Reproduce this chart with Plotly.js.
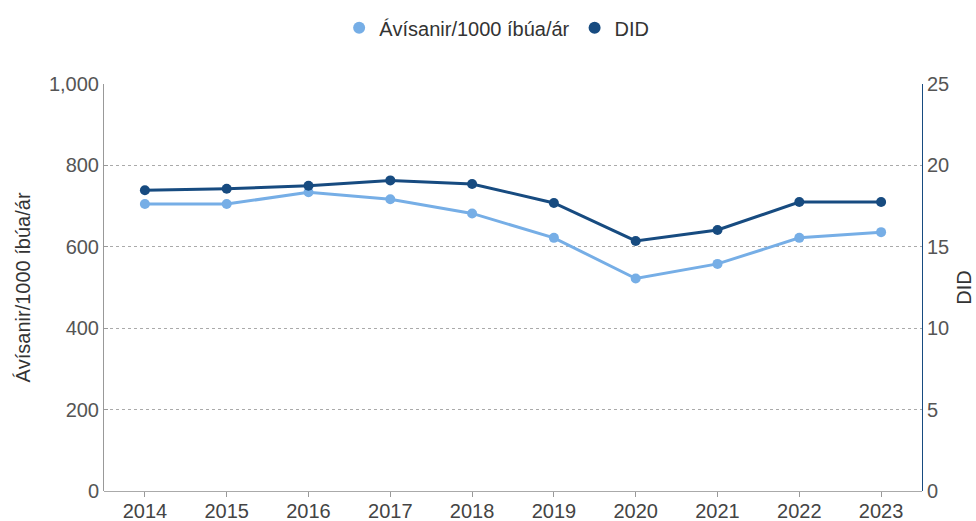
<!DOCTYPE html>
<html><head><meta charset="utf-8">
<script src="https://cdn.plot.ly/plotly-3.0.1.min.js"></script>
<style>html,body{margin:0;padding:0;background:#fff}#chart{width:976px;height:521px}</style>
</head><body><div id="chart"></div>
<script>
const years = ['2014','2015','2016','2017','2018','2019','2020','2021','2022','2023'];
const avisanir = [705, 705, 734, 717, 682, 622, 522, 558, 622, 636];
const did = [18.47, 18.57, 18.75, 19.08, 18.86, 17.69, 15.36, 16.03, 17.75, 17.75];
const seriesNames = ['Ávísanir/1000 íbúa/ár', 'DID'];

const lightC = '#76aee6';
const darkC = '#174b80';
const fontFam = '"Liberation Sans", Arial, sans-serif';

const traces = [
  {x: years, y: avisanir, name: seriesNames[0], type: 'scatter', mode: 'lines+markers',
   line: {color: lightC, width: 3}, marker: {color: lightC, size: 10}, yaxis: 'y', showlegend: false},
  {x: years, y: did, name: seriesNames[1], type: 'scatter', mode: 'lines+markers',
   line: {color: darkC, width: 3}, marker: {color: darkC, size: 10}, yaxis: 'y2', showlegend: false},
  // legend-only entries (circle symbol only)
  {x: [null], y: [null], name: seriesNames[0], type: 'scatter', mode: 'markers',
   marker: {color: lightC, size: 12}, yaxis: 'y', showlegend: true},
  {x: [null], y: [null], name: seriesNames[1], type: 'scatter', mode: 'markers',
   marker: {color: darkC, size: 12}, yaxis: 'y2', showlegend: true}
];

const layout = {
  width: 976, height: 521,
  margin: {l: 104, r: 54, t: 84, b: 30, autoexpand: false},
  paper_bgcolor: '#fff', plot_bgcolor: '#fff',
  font: {family: fontFam, size: 20, color: '#444'},
  showlegend: true,
  legend: {orientation: 'h', x: 0.48, xanchor: 'center', y: 1.138, yanchor: 'middle',
           font: {size: 20, color: '#333'}, itemwidth: 30, tracegroupgap: 0, traceorder: 'normal'},
  xaxis: {type: 'category', range: [-0.5, 9.5], showgrid: false, zeroline: false,
          ticks: 'outside', ticklen: 5, tickcolor: '#999', showline: false,
          ticklabelstandoff: -3,
          tickfont: {size: 20, color: '#444'}},
  yaxis: {range: [0, 1000], tickvals: [0,200,400,600,800,1000], tickformat: ',d',
          showgrid: true, gridcolor: '#aaa', griddash: 'dot', gridwidth: 1,
          zeroline: true, zerolinecolor: '#aaa', zerolinewidth: 1,
          showline: true, linecolor: '#999', linewidth: 1,
          ticks: 'inside', ticklen: 4, tickcolor: '#999',
          title: {text: seriesNames[0], font: {size: 20, color: '#333'}, standoff: 12},
          tickfont: {size: 20, color: '#555'}},
  yaxis2: {range: [0, 25], tickvals: [0,5,10,15,20,25], overlaying: 'y', side: 'right',
           showgrid: false, zeroline: false, showline: true, linecolor: darkC, linewidth: 1,
           ticks: '', title: {text: seriesNames[1], font: {size: 20, color: '#333'}, standoff: 8},
           tickfont: {size: 20, color: '#555'}}
};

Plotly.newPlot('chart', traces, layout, {displayModeBar: false, staticPlot: true});
</script></body></html>
